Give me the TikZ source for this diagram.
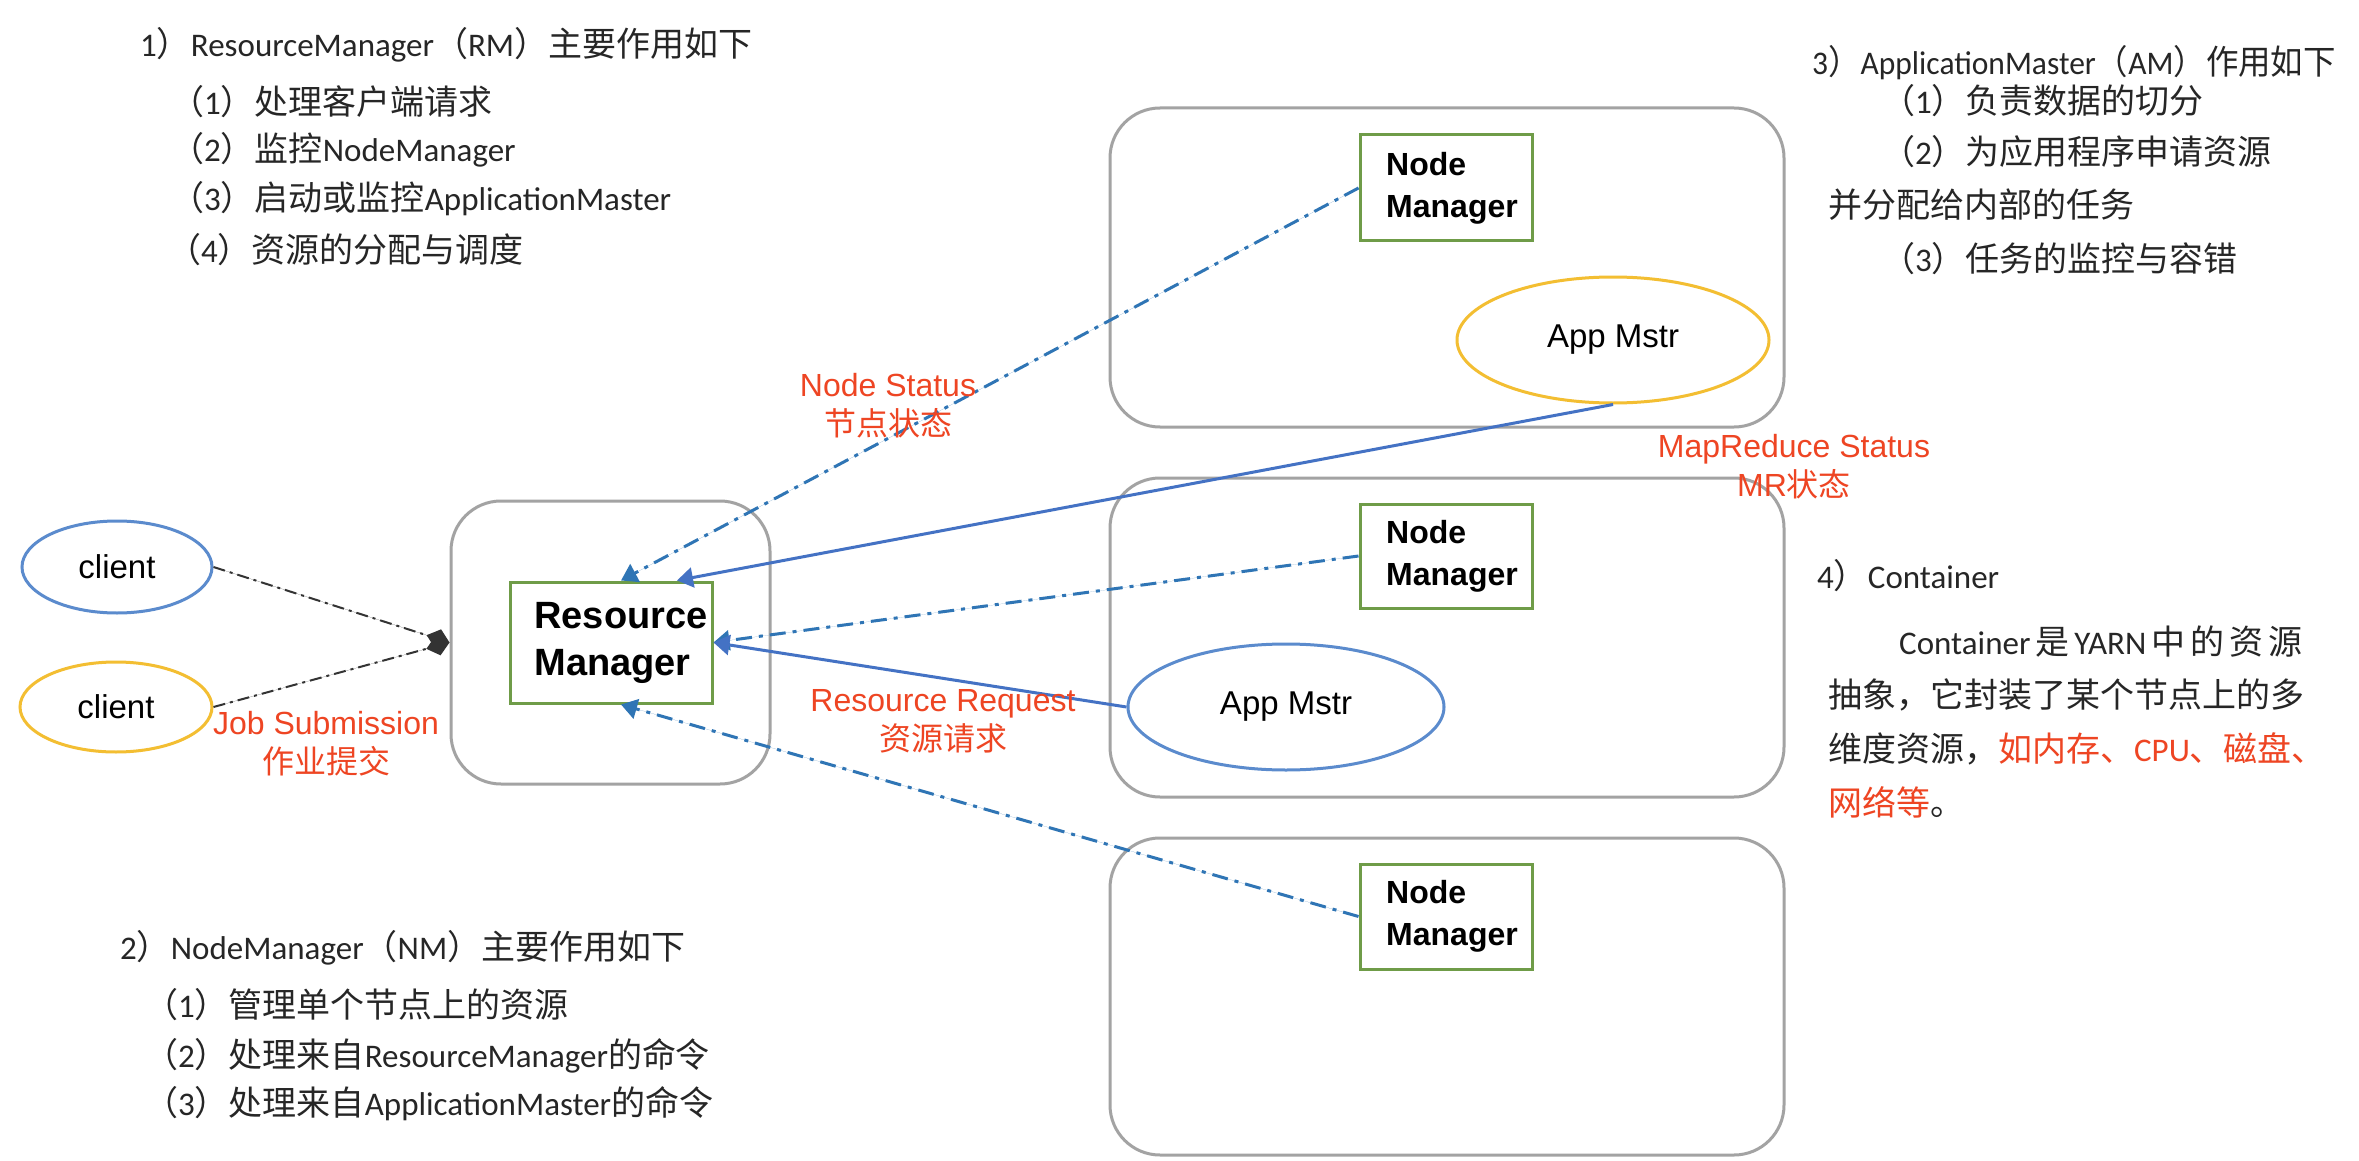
\documentclass[tikz,border=0pt]{standalone}
\usepackage{graphicx}
\usepackage{fontspec}
\setmainfont{Carlito}
\newfontfamily\zhfont[Scale=1.03]{Noto Sans CJK SC}
\newfontfamily\zhlab{Noto Sans CJK SC}
\newfontfamily\diagfont{Liberation Sans}
\newcommand\zh[1]{{\zhfont #1}}
\newcommand\zl[1]{{\zhlab #1}}
\usetikzlibrary{shapes.geometric,arrows.meta}
\definecolor{boxgray}{HTML}{A3A3A3}
\definecolor{nmgreen}{HTML}{6F9C48}
\definecolor{lineblue}{HTML}{2F75B5}
\definecolor{solidblue}{HTML}{4472C4}
\definecolor{ellblue}{HTML}{5B8BCD}
\definecolor{ellyellow}{HTML}{F3BE32}
\definecolor{labred}{HTML}{EE4523}
\definecolor{textgray}{HTML}{262626}
\begin{document}
\begin{tikzpicture}[x=1pt,y=-1pt,
  container/.style={draw=boxgray, line width=3pt, rounded corners=50pt, inner sep=0},
  greenbox/.style={draw=nmgreen, line width=3pt, fill=white, inner sep=0, text=black},
  nmbox/.style={greenbox, minimum width=172, font=\diagfont\bfseries\fontsize{32}{42}\selectfont},
  ell/.style={ellipse, line width=3pt, inner sep=0, fill=white, text=black, font=\diagfont\fontsize{33}{38}\selectfont},
  dashblue/.style={draw=lineblue, line width=3pt, dash pattern=on 16pt off 7pt on 4pt off 7pt, -{Triangle[length=16pt,width=20pt]}, fill=lineblue},
  solidarrow/.style={draw=solidblue, line width=3pt, -{Triangle[length=16pt,width=20pt]}, fill=solidblue},
  dashblack/.style={draw=black!80, line width=2pt, dash pattern=on 12pt off 5pt on 3pt off 5pt, -{Diamond[length=24pt,width=20pt]}, fill=black},
  lab/.style={text=labred, align=center, inner sep=0, font=\diagfont\fontsize{32}{39}\selectfont},
  txt/.style={anchor=west, inner sep=0, text=textgray, font=\fontsize{33}{40}\selectfont}
]
\useasboundingbox[fill=white] (0,0) rectangle (2359,1161);

% containers
\node[container, minimum width=319, minimum height=283] (rmc) at (610.5,642.5) {};
\node[container, minimum width=674, minimum height=319] (boxa) at (1447,267.5) {};
\node[container, minimum width=674, minimum height=319] (boxb) at (1447,637.5) {};
\node[container, minimum width=674, minimum height=317] (boxc) at (1447,996.5) {};

% resource manager
\node[greenbox, minimum width=202, minimum height=121, font=\diagfont\bfseries\fontsize{38}{47}\selectfont] (rm) at (611,642.5)
  {\hspace*{20pt}\begin{tabular}{@{}l@{}}Resource\\Manager\end{tabular}};

% node managers
\node[nmbox, minimum height=106] (nma) at (1446,188) {\hspace*{12pt}\begin{tabular}{@{}l@{}}Node\\Manager\end{tabular}};
\node[nmbox, minimum height=104] (nmb) at (1446,556) {\hspace*{12pt}\begin{tabular}{@{}l@{}}Node\\Manager\end{tabular}};
\node[nmbox, minimum height=105] (nmc) at (1446,916.5) {\hspace*{12pt}\begin{tabular}{@{}l@{}}Node\\Manager\end{tabular}};

% ellipses
\node[ell, draw=ellblue, minimum width=190, minimum height=92] (c1) at (117,567) {client};
\node[ell, draw=ellyellow, minimum width=192, minimum height=90] (c2) at (116,707) {client};
\node[ell, draw=ellyellow, minimum width=312, minimum height=126] (ama) at (1613,340) {App Mstr};
\node[ell, draw=ellblue, minimum width=316, minimum height=126] (amb) at (1286,707) {App Mstr};

% connectors
\draw[dashblack] (c1.east) -- (rmc.west);
\draw[dashblack] (c2.east) -- (rmc.west);
\draw[dashblue] (nma.west) -- ([xshift=10pt]rm.north);
\draw[solidarrow] (ama.south) -- ([xshift=66pt]rm.north);
\draw[dashblue] (nmb.west) -- (rm.east);
\draw[solidarrow] (amb.west) -- (rm.east);
\draw[dashblue] (nmc.west) -- ([xshift=10pt]rm.south);

% connector labels
\node[lab] (lns) at (888,406) {Node Status\\\zl{节点状态}};
\node[lab] (lmr) at (1794,467) {MapReduce Status\\MR\zl{状态}};
\node[lab] (lrr) at (943,721) {Resource Request\\\zl{资源请求}};
\node[lab] (ljs) at (326,744) {Job Submission\\\zl{作业提交}};

% text block 1
\node[txt] (t1) at (140,45) {1\zh{）}ResourceManager\zh{（}RM\zh{）主要作用如下}};
\node[txt] (t1a) at (170,102) {\zh{（}1\zh{）处理客户端请求}};
\node[txt] (t1b) at (170,150) {\zh{（}2\zh{）监控}NodeManager};
\node[txt] (t1c) at (170,199) {\zh{（}3\zh{）启动或监控}ApplicationMaster};
\node[txt] (t1d) at (167,250) {\zh{（}4\zh{）资源的分配与调度}};

% text block 2
\node[txt] (t2) at (120,948) {2\zh{）}NodeManager\zh{（}NM\zh{）主要作用如下}};
\node[txt] (t2a) at (144,1005) {\zh{（}1\zh{）管理单个节点上的资源}};
\node[txt] (t2b) at (144,1056) {\zh{（}2\zh{）处理来自}ResourceManager\zh{的命令}};
\node[txt] (t2c) at (144,1104) {\zh{（}3\zh{）处理来自}ApplicationMaster\zh{的命令}};

% text block 3
\node[txt] (t3) at (1812,63) {\scalebox{0.955}[1]{3\zh{）}ApplicationMaster\zh{（}AM\zh{）作用如下}}};
\node[txt] (t3a) at (1881,101) {\zh{（}1\zh{）负责数据的切分}};
\node[txt] (t3b) at (1881,152) {\zh{（}2\zh{）为应用程序申请资源}};
\node[txt] (t3c) at (1828,205) {\zh{并分配给内部的任务}};
\node[txt] (t3d) at (1881,259) {\zh{（}3\zh{）任务的监控与容错}};

% text block 4
\node[txt] (t4) at (1817,576) {4\zh{）}Container};
\node[txt] (t4a) at (1899,642) {\makebox[403pt][s]{Container \zh{是} YARN \zh{中} \zh{的} \zh{资} \zh{源}}};
\node[txt] (t4b) at (1828,695) {\zh{抽象，它封装了某个节点上的多}};
\node[txt] (t4c) at (1828,749) {\zh{维度资源，}\textcolor{labred}{\zh{如内存、}CPU\zh{、磁盘、}}};
\node[txt] (t4d) at (1828,802) {\textcolor{labred}{\zh{网络等}}\zh{。}};
\end{tikzpicture}
\end{document}
